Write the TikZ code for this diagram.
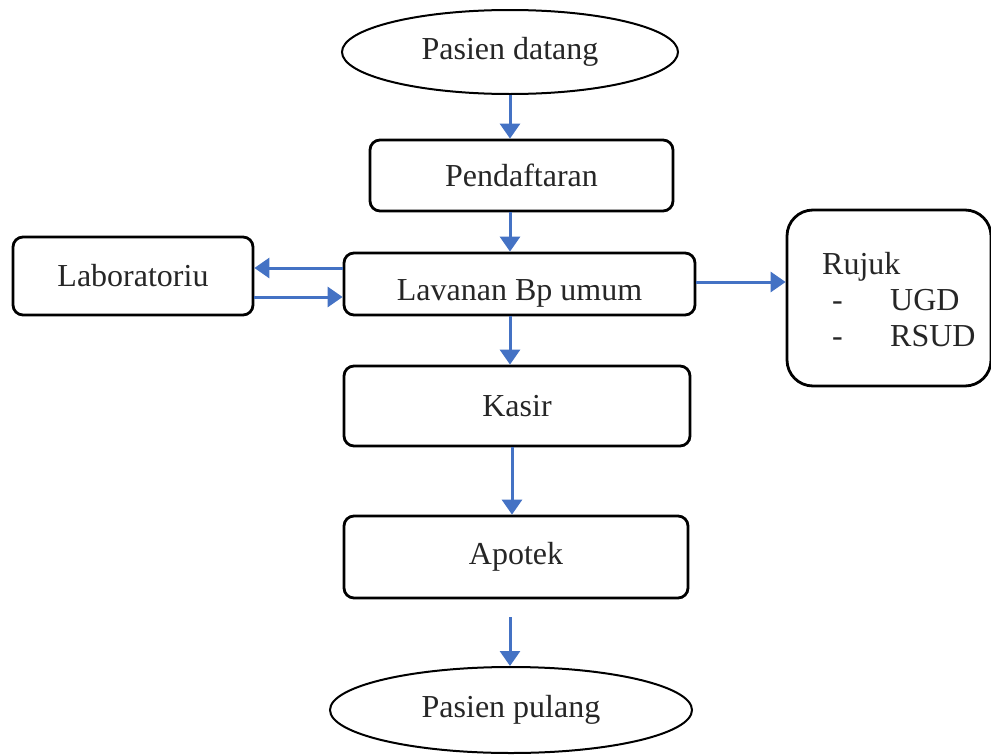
\documentclass[tikz,border=0pt]{standalone}
\usepackage{fontspec}
\setmainfont{Liberation Serif}
\usetikzlibrary{shapes.geometric,arrows.meta}
\definecolor{arrowblue}{HTML}{4472C4}
\begin{document}
\begin{tikzpicture}[x=1pt,y=-1pt,
  every node/.style={font=\fontsize{32}{38}\selectfont,text=black!85},
  box/.style={draw=black,line width=2.8pt,rounded corners=10pt,rectangle,inner sep=0pt},
  oval/.style={draw=black,line width=2pt,ellipse,inner sep=0pt},
  flow/.style={draw=arrowblue,line width=3pt,-{Triangle[length=15pt,width=20pt]}}]
\useasboundingbox (0,0) rectangle (991,755);
\node[oval,minimum width=336pt,minimum height=84pt] (start) at (510,52) {Pasien datang};
\node[box,minimum width=303pt,minimum height=71pt] (daftar) at (521.5,175.5) {Pendaftaran};
\node[box,minimum width=351pt,minimum height=62pt] (layan) at (519.5,284) {\raisebox{-16pt}[0pt][0pt]{Lavanan Bp umum}};
\node[box,minimum width=240pt,minimum height=78pt] (lab) at (133,276) {Laboratoriu};
\node[box,rounded corners=26pt,minimum width=204pt,minimum height=176pt] (rujuk) at (889,298) {};
\node[anchor=north west,align=left,inner sep=0pt] (rujuktxt) at (822,252) {Rujuk\\[-2pt]\makebox[68pt][l]{\hspace{10pt}-}UGD\\[-2pt]\makebox[68pt][l]{\hspace{10pt}-}RSUD};
\node[box,minimum width=346pt,minimum height=80pt] (kasir) at (517,406) {Kasir};
\node[box,minimum width=344pt,minimum height=82pt] (apotek) at (516,557) {Apotek};
\node[oval,minimum width=362pt,minimum height=86pt] (end) at (511,710) {Pasien pulang};
\coordinate (a6s) at (510,617);
\draw[flow] (start.south -| 510,0) -- (daftar.north -| 510,0);
\draw[flow] (daftar.south -| 510,0) -- (layan.north -| 510,0);
\draw[flow] (layan.west |- 0,268) -- (lab.east |- 0,268);
\draw[flow] (lab.east |- 0,297) -- (layan.west |- 0,297);
\draw[flow] (layan.east |- 0,282) -- (rujuk.west |- 0,282);
\draw[flow] (layan.south -| 510,0) -- (kasir.north -| 510,0);
\draw[flow] (kasir.south -| 512,0) -- (apotek.north -| 512,0);
\draw[flow] (a6s) -- (end.north -| 510,0);
\end{tikzpicture}
\end{document}
